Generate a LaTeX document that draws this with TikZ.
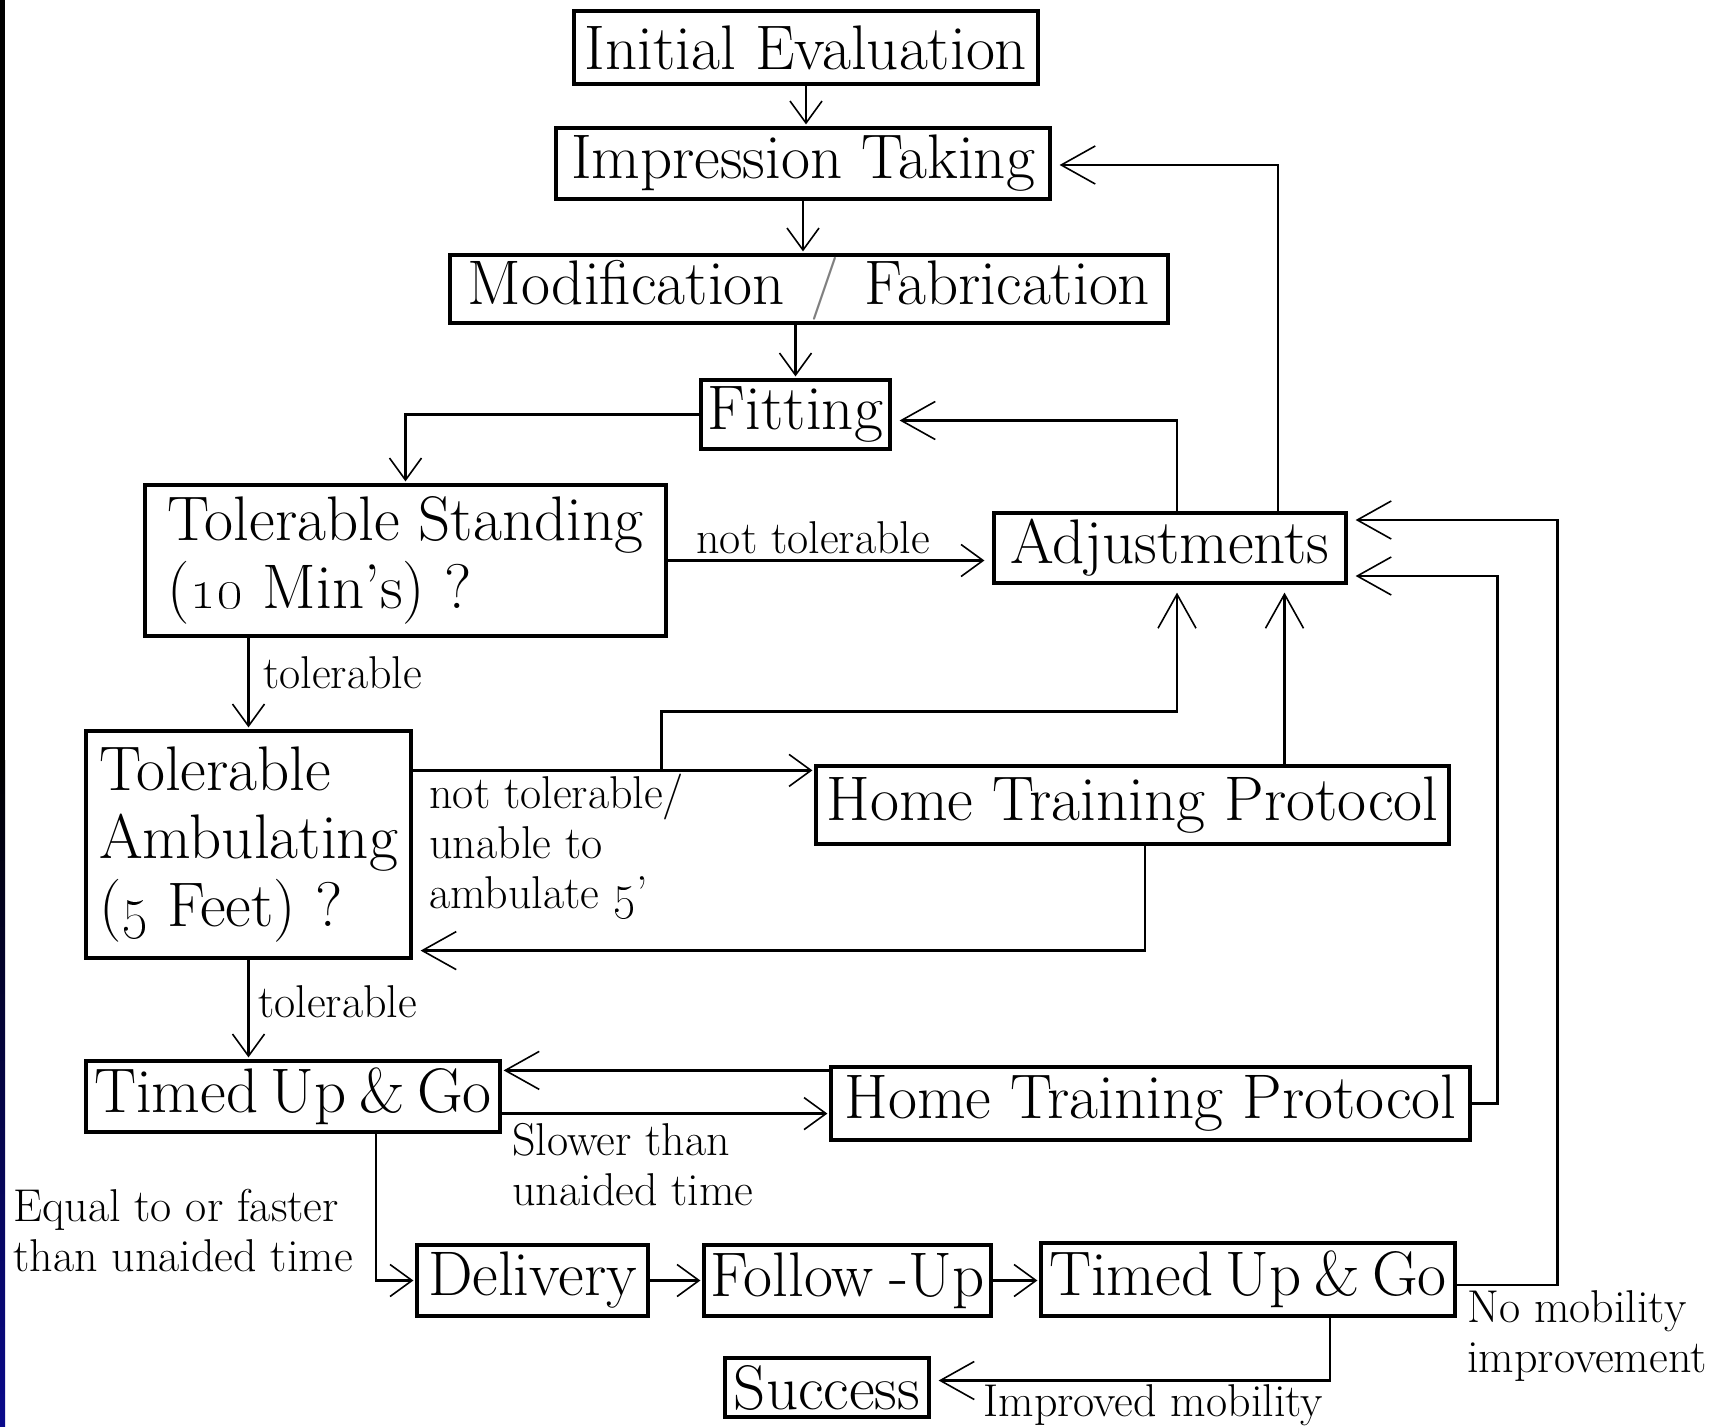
\documentclass[tikz,border=0pt]{standalone}
\usepackage{tikz}
\usepackage{xcolor}
\usetikzlibrary{arrows.meta,calc}

\begin{document}
\begin{tikzpicture}[x=0.5pt, y=-0.5pt,
  box/.style={draw, line width=1.6pt, inner sep=0pt, align=center,
    font=\fontsize{31.5}{34}\selectfont},
  lbl/.style={inner sep=0pt, align=left, anchor=west,
    font=\fontsize{23}{25}\selectfont},
  arr/.style={line width=1.2pt, shorten >=1pt,
    -{Straight Barb[length=11pt,width=16pt,line width=0.8pt]}},
  arrL/.style={line width=1.2pt, shorten >=4pt,
    -{Straight Barb[length=17pt,width=19pt,line width=0.8pt]}}
]
% Define colors
\definecolor{edgetop}{RGB}{0,0,0}
\definecolor{edgebot}{RGB}{10,10,140}

% Set frame and left edge strip
\useasboundingbox (0,0) rectangle (1734,1427);
\fill[edgetop] (0,0) rectangle (5,760);
\shade[top color=edgetop, bottom color=edgebot] (0,760) rectangle (5,1427);

% Main column of boxes
\node[box, minimum width=232pt, minimum height=36.5pt] (init) at (806,47.5) {Initial Evaluation};
\node[box, minimum width=247pt, minimum height=35.5pt] (imp) at (803,163.5) {Impression Taking};
\node[box, minimum width=359pt, minimum height=34pt] (mod) at (809,289) {Modification\hspace{.4em}{\color{gray}/}\hspace{.4em}Fabrication};
\node[box, minimum width=94.5pt, minimum height=34.5pt] (fit) at (795.5,414.5) {Fitting};

% Decision boxes
\node[box, align=left, minimum width=260.5pt, minimum height=75.5pt] (stand) at (405.5,560.5) {Tolerable Standing\\(\oldstylenums{10} Min's) ?};
\node[box, minimum width=176pt, minimum height=35pt] (adj) at (1170,548) {Adjustments};
\node[box, align=left, minimum width=162.5pt, minimum height=113.5pt] (amb) at (248.5,844.5) {Tolerable\\Ambulating\\(\oldstylenums{5} Feet) ?};
\node[box, minimum width=316.5pt, minimum height=39pt] (htpA) at (1132.5,805) {Home Training Protocol};

% Timed up and go
\node[box, minimum width=207pt, minimum height=35.5pt] (tugA) at (293,1096.5) {Timed\hspace{.2em}Up\hspace{.2em}\&\hspace{.2em}Go};
\node[box, minimum width=319.5pt, minimum height=36.5pt] (htpB) at (1150.5,1103.5) {Home Training Protocol};

% Bottom row
\node[box, minimum width=115.5pt, minimum height=35.5pt] (deliv) at (532.5,1280.5) {Delivery};
\node[box, minimum width=143.5pt, minimum height=35.5pt] (follow) at (847.5,1280.5) {Follow\hspace{.25em}-Up};
\node[box, minimum width=207pt, minimum height=36.5pt] (tugB) at (1248,1279.5) {Timed\hspace{.2em}Up\hspace{.2em}\&\hspace{.2em}Go};
\node[box, minimum width=102pt, minimum height=29.5pt] (succ) at (827,1387.5) {Success};

% Labels
\node[lbl] (lNT) at (696,538) {not tolerable};
\node[lbl] (lTolA) at (263,673) {tolerable};
\node[lbl] (lNTU) at (429,846) {not tolerable/\\unable to\\ambulate \oldstylenums{5}'};
\node[lbl] (lTolB) at (258,1002) {tolerable};
\node[lbl] (lSlow) at (512,1165) {Slower than\\unaided time};
\node[lbl] (lEq) at (13,1231) {Equal to or faster\\than unaided time};
\node[lbl] (lNoMob) at (1467,1336) {No mobility\\improvement};
\node[lbl] (lImp) at (983,1405) {Improved mobility};

% Main column arrows
\draw[arr] (init.south) -- (init.south |- imp.north);
\draw[arr] (imp.south) -- (imp.south |- mod.north);
\draw[arr] (fit.north |- mod.south) -- (fit.north);
\draw[arr] (fit.west) -| (stand.north);

% Back from Adjustments
\draw[arrL] ($(adj.north)+(7,0)$) |- ($(fit.east)+(0,6)$);
\draw[arrL] ($(adj.north)+(108,0)$) |- ($(imp.east)+(0,1.5)$);

% Standing
\draw[arr, shorten >=4pt] (stand.east) -- (stand.east -| adj.west);
\draw[arr] (amb.north |- stand.south) -- (amb.north);

% Ambulating
\draw[arr] ($(amb.north east)+(0,41)$) coordinate (ambOut) -- (ambOut -| htpA.west);
\draw[arrL] ($(ambOut)+(249,0)$) |- ($(adj.south)+(7,127)$) -- ($(adj.south)+(7,0)$);
\draw[arrL] ($(htpA.north)+(152,0)$) coordinate (htpUp) -- (htpUp |- adj.south);
\draw[arrL] ($(htpA.south)+(12.5,0)$) |- ($(amb.south east)+(0,-9)$);
\draw[arr] (amb.south) -- (amb.south |- tugA.north);

% Timed up and go, first
\draw[arr] ($(tugA.south east)+(0,-20)$) coordinate (tugOut) -- (tugOut -| htpB.west);
\draw[arrL, shorten >=1pt] ($(htpB.north west)+(0,5)$) coordinate (htpBack) -- (htpBack -| tugA.east);
\draw[arrL] (htpB.east) -- ++(26,0) |- ($(adj.east)+(0,28)$);
\draw[arr] ($(tugA.south)+(83,0)$) |- (deliv.west);

% Bottom row
\draw[arr] (deliv.east) -- (deliv.east -| follow.west);
\draw[arr] (follow.east) -- (follow.east -| tugB.west);
\draw[arrL] ($(tugB.east)+(0,5.5)$) -- ++(101,0) |- ($(adj.east)+(0,-28)$);
\draw[arrL] ($(tugB.south)+(82,0)$) |- ($(succ.east)+(0,-7)$);

\end{tikzpicture}
\end{document}
